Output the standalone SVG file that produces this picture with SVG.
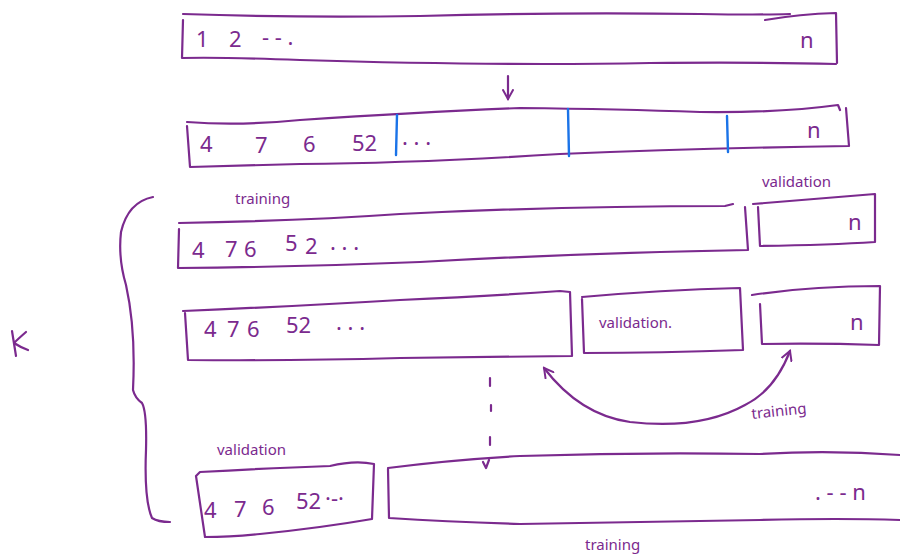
<svg xmlns="http://www.w3.org/2000/svg" width="900" height="559" viewBox="0 0 900 559">
  <defs>
    <style>
      .ink { fill: none; stroke: #7b2a8e; stroke-width: 2.2; stroke-linecap: round; stroke-linejoin: round; }
      .cut { fill: none; stroke: #1a73e8; stroke-width: 2.4; stroke-linecap: round; }
      .num { fill: #7b2a8e; font-family: "Noto Sans", "DejaVu Sans", sans-serif; font-size: 22px; }
      .lbl { fill: #7b2a8e; font-family: "Noto Sans", "DejaVu Sans", sans-serif; font-size: 15px; }
    </style>
    <marker id="head" viewBox="0 0 12 12" refX="10" refY="6" markerWidth="12" markerHeight="12" markerUnits="userSpaceOnUse" orient="auto-start-reverse">
      <path d="M1,1 L10,6 L1,11" fill="none" stroke="#7b2a8e" stroke-width="2" stroke-linecap="round"/>
    </marker>
  </defs>

  <rect width="900" height="559" fill="#ffffff"/>

  <!-- full data set -->
  <g id="dataset">
    <path class="ink" d="M183,14 Q300,18 420,16 Q560,12 700,14 Q760,15 790,14"/>
    <path class="ink" d="M765,20 Q800,14 836,13 L837,63"/>
    <path class="ink" d="M183,20 L182,58 Q220,57 300,60 Q500,66 650,63 Q760,62 836,64"/>
    <text class="num" x="196" y="47">1</text>
    <text class="num" x="229" y="47">2</text>
    <text class="num" x="262" y="45">- - .</text>
    <text class="num" x="800" y="48">n</text>
  </g>

  <!-- shuffled data set split into folds -->
  <g id="shuffled">
    <path class="ink" d="M187,122 Q240,126 300,120 Q420,112 520,108 Q620,109 700,112 Q780,113 838,105 L840,110"/>
    <path class="ink" d="M846,108 L849,146 Q700,148 560,154 Q420,163 300,164 Q230,166 190,167 L187,126"/>
    <path class="cut" d="M397,115 L396,155"/>
    <path class="cut" d="M568,109 L569,156"/>
    <path class="cut" d="M727,116 L728,152"/>
    <text class="num" x="200" y="152">4</text>
    <text class="num" x="255" y="153">7</text>
    <text class="num" x="303" y="152">6</text>
    <text class="num" x="352" y="151">52</text>
    <text class="num" x="402" y="145">. . .</text>
    <text class="num" x="807" y="138">n</text>
  </g>

  <!-- fold 1 -->
  <g id="fold1-train">
    <text class="lbl" x="235" y="204">training</text>
    <path class="ink" d="M179,223 Q300,221 400,214 Q560,206 725,206 L733,204"/>
    <path class="ink" d="M179,229 L178,268 Q300,267 420,262 Q580,253 748,250 L745,207"/>
    <text class="num" x="192" y="258">4</text>
    <text class="num" x="225" y="257">7</text>
    <text class="num" x="244" y="257">6</text>
    <text class="num" x="285" y="251">5</text>
    <text class="num" x="305" y="254">2</text>
    <text class="num" x="330" y="250">. . .</text>
  </g>
  <g id="fold1-valid">
    <text class="lbl" x="762" y="187">validation</text>
    <path class="ink" d="M753,204 Q800,200 875,194 L875,242 Q830,245 760,246 L758,207"/>
    <text class="num" x="848" y="230">n</text>
  </g>

  <!-- fold 2 -->
  <g id="fold2-train">
    <path class="ink" d="M183,311 Q300,306 400,300 Q490,296 560,291 L570,292 L572,356 Q500,357 400,358 Q290,361 188,360 L185,313"/>
    <text class="num" x="204" y="337">4</text>
    <text class="num" x="227" y="337">7</text>
    <text class="num" x="247" y="337">6</text>
    <text class="num" x="286" y="333">52</text>
    <text class="num" x="336" y="330">. . .</text>
  </g>
  <g id="fold2-valid">
    <path class="ink" d="M582,297 Q660,290 740,288 L743,350 Q660,353 584,353 L582,299"/>
    <text class="lbl" x="599" y="328">validation.</text>
  </g>
  <g id="fold2-rest">
    <path class="ink" d="M752,295 Q810,286 880,286 L879,345 Q820,343 762,344 L760,304"/>
    <text class="num" x="850" y="330">n</text>
  </g>

  <!-- last fold -->
  <g id="foldk-valid">
    <text class="lbl" x="217" y="455">validation</text>
    <path class="ink" d="M196,476 L200,472 Q270,468 330,466 Q355,460 374,464 L372,519 Q320,528 260,534 Q230,537 205,537 L196,476"/>
    <text class="num" x="204" y="518">4</text>
    <text class="num" x="234" y="517">7</text>
    <text class="num" x="262" y="515">6</text>
    <text class="num" x="296" y="509">52</text>
    <text class="num" x="325" y="506">·-·</text>
  </g>
  <g id="foldk-train">
    <path class="ink" d="M388,468 Q450,460 520,456 Q640,452 760,454 Q830,450 900,455"/>
    <path class="ink" d="M388,469 L389,518 Q450,522 520,524 Q640,522 760,520 Q840,518 900,520"/>
    <text class="num" x="815" y="500">. - - n</text>
    <text class="lbl" x="585" y="550">training</text>
  </g>

  <!-- brace and K -->
  <g id="k-brace">
    <path class="ink" d="M153,197 Q128,202 121,232 Q118,258 126,285 Q136,330 133,390 Q135,398 142,403 Q147,412 146,450 Q144,500 152,518 Q158,522 170,522"/>
    <path class="ink" d="M12,331 L16,356 M26,332 Q18,339 14,343 Q20,347 28,350"/>
  </g>

  <!-- connectors -->
  <g id="connectors">
    <path class="ink" d="M508,76 L508,99" marker-end="url(#head)"/>
    <path class="ink" d="M544,368 Q580,415 630,422 Q700,430 745,405 Q775,390 790,351" marker-start="url(#head)" marker-end="url(#head)"/>
    <text class="lbl" x="752" y="419" transform="rotate(-6 752 419)">training</text>
    <path class="ink" d="M490,378 L490,386 M491,405 L491,411 M490,437 L490,445"/>
    <path class="ink" d="M483,462 L486,468 L489,460"/>
  </g>
</svg>
